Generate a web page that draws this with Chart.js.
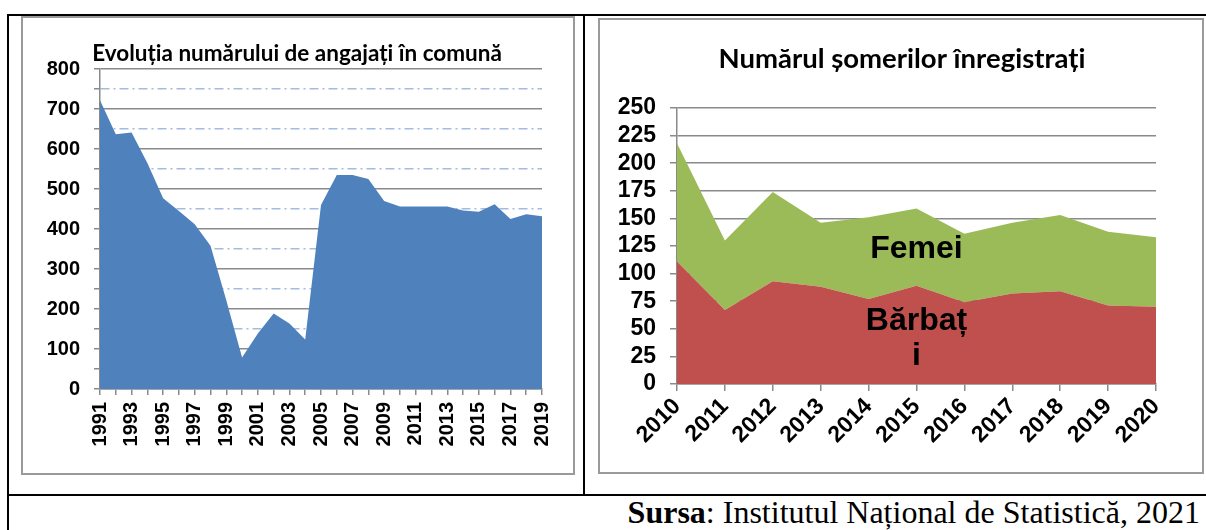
<!DOCTYPE html>
<html>
<head>
<meta charset="utf-8">
<script src="https://cdn.jsdelivr.net/npm/chart.js@4.4.1/dist/chart.umd.min.js"></script>
<style>
  body { margin: 0; background: #fff; width: 1206px; height: 530px; position: relative; overflow: hidden; }
  .rule { position: absolute; background: #000; }
  .frame { position: absolute; border: 2px solid #9a9a9a; box-sizing: border-box; }
  canvas { position: absolute; }
  #source { position: absolute; right: 6px; top: 496px; font-family: 'Liberation Serif', 'Times New Roman', serif; font-size: 32px; line-height: 1; color: #000; white-space: nowrap; }
</style>
</head>
<body>
<div class="rule" style="left:7px;top:14px;width:1199px;height:2px"></div>
<div class="rule" style="left:7px;top:14px;width:2px;height:516px"></div>
<div class="rule" style="left:583px;top:14px;width:2px;height:482px"></div>
<div class="rule" style="left:7px;top:494px;width:1199px;height:2px"></div>
<div class="frame" style="left:21px;top:16px;width:554px;height:459px"></div>
<div class="frame" style="left:598px;top:18px;width:606px;height:456px"></div>
<canvas id="employeesChart" width="550" height="455" style="left:23px;top:18px"></canvas>
<canvas id="unemployedChart" width="604" height="452" style="left:600px;top:20px"></canvas>
<div id="source"><b>Sursa</b>: Institutul Național de Statistică, 2021</div>

<script>
// Left chart: employees in the commune
const employeeYears = ['1991', '1992', '1993', '1994', '1995', '1996', '1997', '1998', '1999', '2000',
    '2001', '2002', '2003', '2004', '2005', '2006', '2007', '2008', '2009', '2010',
    '2011', '2012', '2013', '2014', '2015', '2016', '2017', '2018', '2019'];
const employees = [722, 637, 641, 565, 477, 445, 412, 358, 222, 79,
    139, 189, 164, 124, 460, 535, 535, 525, 470, 456,
    456, 456, 456, 446, 443, 462, 425, 437, 432];
// major ticks every 100 (labelled), minor every 50 (dash-dot lines)
const employeeTicks = [0, 50, 100, 150, 200, 250, 300, 350, 400, 450, 500, 550, 600, 650, 700, 750, 800];

// Right chart: registered unemployed
const unemployedYears = ['2010', '2011', '2012', '2013', '2014', '2015', '2016', '2017', '2018', '2019', '2020'];
const men = [111, 67, 93, 88, 77, 89, 74, 82, 84, 71, 70];
const women = [107, 63, 81, 58, 74, 70, 62, 64, 69, 67, 63];
const unemployedTicks = [0, 25, 50, 75, 100, 125, 150, 175, 200, 225, 250];

const gridGrey = '#8a8a8a';
const tickFont = (size) => ({ family: "'Liberation Sans', Arial, sans-serif", weight: 'bold', size: size });

// empty axis on the right: keeps space so the centred title sits where Excel put it
const spacerAxis = (width) => ({
    position: 'right',
    display: true,
    grid: { display: false, drawTicks: false },
    border: { display: false },
    ticks: { display: false },
    afterFit: (scale) => { scale.width = width; }
});

new Chart(document.getElementById('employeesChart'), {
    type: 'line',
    data: {
        labels: employeeYears,
        datasets: [{
            data: employees,
            fill: 'origin',
            backgroundColor: '#4f81bd',
            borderWidth: 0,
            pointRadius: 0,
            tension: 0
        }]
    },
    options: {
        responsive: false,
        animation: false,
        layout: { padding: { left: 0, right: 2, top: 0, bottom: 0 } },
        plugins: {
            legend: { display: false },
            tooltip: { enabled: false },
            title: {
                display: true,
                text: 'Evoluția numărului de angajați în comună',
                color: '#000',
                font: { family: 'Lato, sans-serif', weight: 'bold', size: 22.5, lineHeight: 1.2 },
                padding: { top: 22, bottom: 2 }
            }
        },
        scales: {
            x: {
                afterFit: (scale) => { scale.height = 84; },
                grid: { drawOnChartArea: false, drawTicks: true, tickLength: 6, color: gridGrey, lineWidth: 1.5 },
                border: { color: gridGrey, width: 1.5 },
                ticks: {
                    autoSkip: false,
                    minRotation: 90,
                    maxRotation: 90,
                    padding: 7,
                    color: '#000',
                    font: tickFont(20),
                    callback: function (value, index) {
                        return index % 2 === 0 ? this.getLabelForValue(value) : '';
                    }
                }
            },
            y: {
                min: 0,
                max: 800,
                afterFit: (scale) => { scale.width = 77; },
                afterBuildTicks: (axis) => { axis.ticks = employeeTicks.map(v => ({ value: v })); },
                grid: {
                    color: (ctx) => ctx.tick && ctx.tick.value % 100 !== 0 ? '#a3bce0' : gridGrey,
                    lineWidth: 1.5,
                    tickColor: gridGrey,
                    tickLength: 6
                },
                border: {
                    color: gridGrey,
                    width: 1.5,
                    dash: (ctx) => ctx.tick && ctx.tick.value % 100 !== 0 ? [9, 4, 2, 4] : []
                },
                ticks: {
                    autoSkip: false,
                    padding: 14,
                    color: '#000',
                    font: tickFont(20),
                    callback: (value) => value % 100 === 0 ? value : ''
                }
            },
            spacer: spacerAxis(28)
        }
    }
});

// Band labels placed in the middle of each stacked area at the central year
const bandLabels = {
    id: 'bandLabels',
    afterDatasetsDraw(chart) {
        const { ctx, scales: { x, y } } = chart;
        const i = Math.floor(unemployedYears.length / 2);
        const px = x.getPixelForValue(i);
        ctx.save();
        ctx.font = "bold 32px 'Liberation Sans', Arial, sans-serif";
        ctx.fillStyle = '#000';
        ctx.textAlign = 'center';
        ctx.textBaseline = 'middle';
        ctx.fillText('Femei', px, y.getPixelForValue(men[i] + women[i] / 2) + 2);
        const my = y.getPixelForValue(men[i] / 2);
        ctx.fillText('Bărbaț', px, my - 14);
        ctx.fillText('i', px, my + 21);
        ctx.restore();
    }
};

new Chart(document.getElementById('unemployedChart'), {
    type: 'line',
    data: {
        labels: unemployedYears,
        datasets: [{
            label: 'Bărbați',
            data: men,
            fill: 'origin',
            backgroundColor: '#c0504d',
            borderWidth: 0,
            pointRadius: 0,
            tension: 0
        }, {
            label: 'Femei',
            data: women,
            fill: '-1',
            backgroundColor: '#9bbb59',
            borderWidth: 0,
            pointRadius: 0,
            tension: 0
        }]
    },
    options: {
        responsive: false,
        animation: false,
        layout: { padding: { left: 0, right: 0, top: 0, bottom: 0 } },
        plugins: {
            legend: { display: false },
            tooltip: { enabled: false },
            title: {
                display: true,
                text: 'Numărul șomerilor înregistrați',
                color: '#000',
                font: { family: 'Lato, sans-serif', weight: 'bold', size: 27.5, lineHeight: 1.2 },
                padding: { top: 23, bottom: 32 }
            }
        },
        scales: {
            x: {
                afterFit: (scale) => { scale.height = 88; },
                grid: { drawOnChartArea: false, drawTicks: true, tickLength: 7, color: gridGrey, lineWidth: 1.5 },
                border: { color: gridGrey, width: 1.5 },
                ticks: {
                    autoSkip: false,
                    minRotation: 45,
                    maxRotation: 45,
                    padding: 2,
                    color: '#000',
                    font: tickFont(23)
                }
            },
            y: {
                stacked: true,
                min: 0,
                max: 250,
                afterFit: (scale) => { scale.width = 77; },
                afterBuildTicks: (axis) => { axis.ticks = unemployedTicks.map(v => ({ value: v })); },
                grid: { color: gridGrey, lineWidth: 1.5, tickLength: 7 },
                border: { color: gridGrey, width: 1.5 },
                ticks: {
                    autoSkip: false,
                    padding: 14,
                    color: '#000',
                    font: tickFont(23)
                }
            },
            spacer: spacerAxis(48)
        }
    },
    plugins: [bandLabels]
});
</script>
</body>
</html>
